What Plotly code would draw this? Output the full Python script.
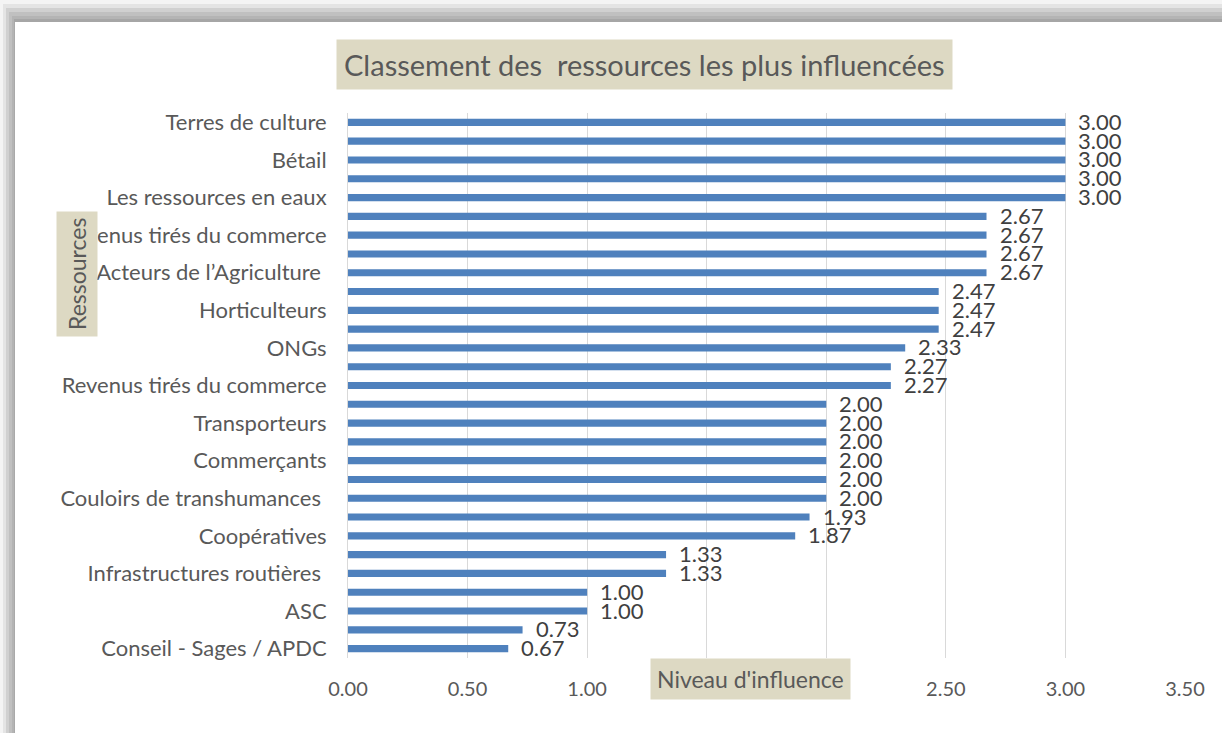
import plotly.graph_objects as go

# Resource labels (only every other category is labelled on the axis)
ressources = [
    "Terres de culture", "", "Bétail", "", "Les ressources en eaux", "",
    "Revenus tirés du commerce", "", "Acteurs de l\u2019Agriculture ", "",
    "Horticulteurs", "", "ONGs", "", "Revenus tirés du commerce", "",
    "Transporteurs", "", "Commerçants", "", "Couloirs de transhumances ", "",
    "Coopératives", "", "Infrastructures routières ", "", "ASC", "",
    "Conseil - Sages / APDC",
]
niveaux = [
    3.00, 3.00, 3.00, 3.00, 3.00,
    2.67, 2.67, 2.67, 2.67,
    2.47, 2.47, 2.47,
    2.33, 2.27, 2.27,
    2.00, 2.00, 2.00, 2.00, 2.00, 2.00,
    1.93, 1.87,
    1.33, 1.33,
    1.00, 1.00,
    0.73, 0.67,
]
x_ticks = [0, 0.5, 1.0, 1.5, 2.0, 2.5, 3.0, 3.5]

W, H = 1222, 733
L, R, T, B = 348, 1185, 113, 658
TXT = "#595959"
FONT = "Lato"


def px(x):
    return (x - L) / (R - L)


def py(y):
    return (B - y) / (B - T)


pos = list(range(len(niveaux)))

fig = go.Figure()
fig.add_trace(go.Bar(
    x=niveaux, y=pos, orientation="h",
    marker=dict(color="#4f81bd", line=dict(width=0)),
    width=0.38, hoverinfo="x",
))

annotations = []
for i, v in zip(pos, niveaux):
    annotations.append(dict(
        x=v, y=i, xref="x", yref="y", text=f"{v:.2f}", showarrow=False,
        xanchor="left", yanchor="middle", xshift=11, yshift=1,
        font=dict(family=FONT, size=22, color="#404040"),
    ))

# Chart title box
annotations.append(dict(
    x=px(644), y=py(64), xref="paper", yref="paper",
    text="Classement des  ressources les plus influencées", showarrow=False,
    xanchor="center", yanchor="middle", bgcolor="#ddd9c3", borderpad=7,
    font=dict(family=FONT, size=29, color=TXT),
))
# Axis title boxes
annotations.append(dict(
    x=px(750), y=py(679), xref="paper", yref="paper",
    text="Niveau d'influence", showarrow=False,
    xanchor="center", yanchor="middle", bgcolor="#ddd9c3", borderpad=6,
    font=dict(family=FONT, size=23, color=TXT),
))
annotations.append(dict(
    x=px(77), y=py(274), xref="paper", yref="paper",
    text="Ressources", showarrow=False, textangle=-90,
    xanchor="center", yanchor="middle", bgcolor="#ddd9c3", borderpad=6,
    font=dict(family=FONT, size=23, color=TXT),
))

# Frame shadow along top and left edges
shapes = []
bands = [(0, "#f4f4f4"), (4, "#e4e4e4"), (8, "#d0d0d0"), (12, "#c0c0c0"),
         (16, "#b4b4b4"), (19, "#a6a6a6")]
for off, col in bands:
    shapes.append(dict(type="rect", xref="paper", yref="paper",
                       x0=px(off * 0.75), x1=px(W), y0=py(off), y1=py(22),
                       fillcolor=col, line=dict(width=0), layer="below"))
    shapes.append(dict(type="rect", xref="paper", yref="paper",
                       x0=px(off * 0.75), x1=px(15), y0=py(off), y1=py(H),
                       fillcolor=col, line=dict(width=0), layer="below"))

fig.update_layout(
    width=W, height=H,
    margin=dict(l=L, r=W - R, t=T, b=H - B),
    paper_bgcolor="white", plot_bgcolor="white",
    showlegend=False, bargap=0.6,
    annotations=annotations, shapes=shapes,
    xaxis=dict(
        range=[0, 3.5], tickvals=x_ticks,
        ticktext=[f"{t:.2f}" for t in x_ticks],
        showgrid=True, gridcolor="#d9d9d9", gridwidth=1,
        zeroline=False, showline=False, ticks="",
        ticklabelstandoff=17,
        tickfont=dict(family=FONT, size=20, color=TXT),
    ),
    yaxis=dict(
        range=[len(niveaux) - 0.5, -0.5], tickvals=pos, ticktext=ressources,
        showgrid=False, zeroline=False, showline=True, linecolor="#d9d9d9",
        linewidth=1, ticks="", ticklabelstandoff=16,
        tickfont=dict(family=FONT, size=22, color=TXT),
    ),
)

fig.write_html("out.html")
